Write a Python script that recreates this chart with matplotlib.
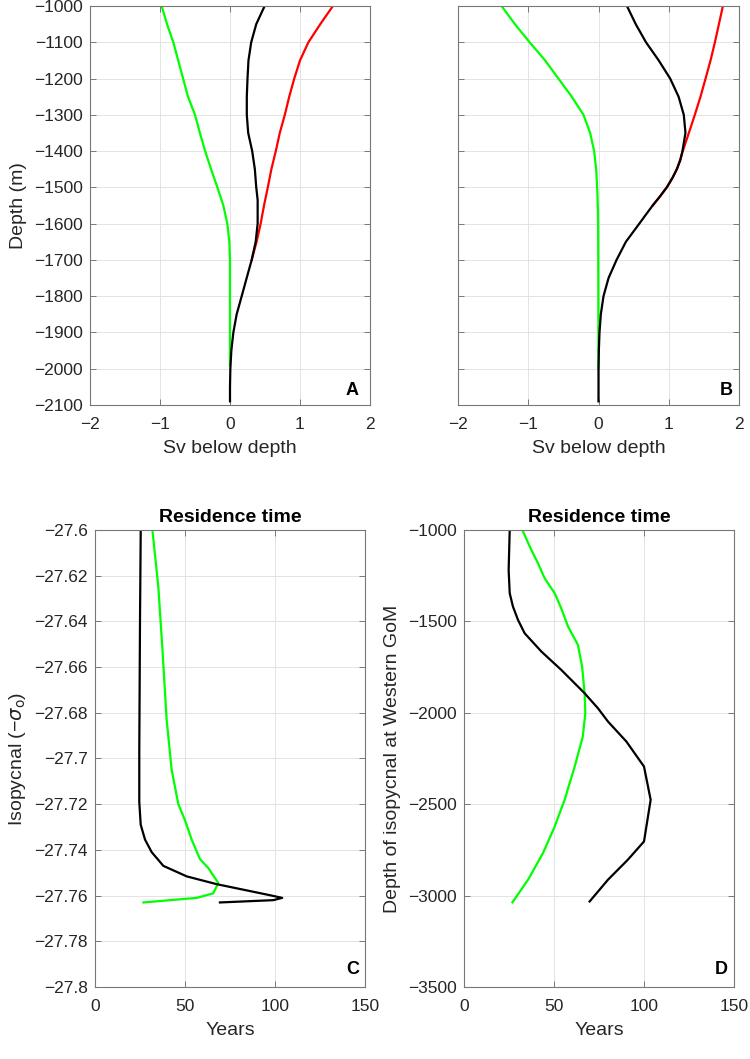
import matplotlib
matplotlib.use("Agg")
import matplotlib.pyplot as plt
from matplotlib.ticker import FuncFormatter

plt.rcParams['font.family'] = ['Liberation Sans', 'DejaVu Sans']

# ---------------- Panel A data ----------------
a_green_depth = [-1000, -1050, -1100, -1150, -1200, -1250, -1300, -1350, -1400, -1450, -1500,
                 -1550, -1600, -1650, -1700, -1800, -1900, -1990]
a_green_sv = [-0.976, -0.90, -0.81, -0.74, -0.67, -0.60, -0.50, -0.43, -0.355, -0.27, -0.18,
              -0.095, -0.038, -0.01, 0.0, 0.0, 0.0, 0.0]

a_black_depth = [-1000, -1050, -1100, -1150, -1200, -1250, -1300, -1350, -1400, -1450, -1500,
                 -1535, -1600, -1650, -1700, -1750, -1800, -1850, -1900, -1950, -2000, -2050, -2090]
a_black_sv = [0.495, 0.375, 0.303, 0.264, 0.25, 0.24, 0.24, 0.26, 0.317, 0.355, 0.375,
              0.395, 0.395, 0.367, 0.31, 0.238, 0.167, 0.095, 0.048, 0.019, 0.005, 0.0, 0.0]

a_red_depth = [-1000, -1050, -1100, -1150, -1200, -1250, -1300, -1350, -1400, -1450, -1500,
               -1550, -1600, -1650, -1700]
a_red_sv = [1.47, 1.29, 1.12, 1.0, 0.918, 0.846, 0.783, 0.711, 0.654, 0.591, 0.54,
            0.486, 0.438, 0.38, 0.31]

# ---------------- Panel B data ----------------
b_green_depth = [-1000, -1050, -1100, -1150, -1200, -1250, -1300, -1350, -1400, -1450, -1500,
                 -1550, -1600, -2000]
b_green_sv = [-1.38, -1.19, -0.98, -0.76, -0.571, -0.381, -0.214, -0.119, -0.062, -0.033, -0.019,
              -0.01, -0.005, 0.0]

b_black_depth = [-1000, -1050, -1100, -1150, -1200, -1250, -1300, -1350, -1400, -1425, -1450,
                 -1475, -1500, -1525, -1550, -1575, -1600, -1650, -1700, -1750, -1800, -1850,
                 -1900, -1950, -2000, -2090]
b_black_sv = [0.405, 0.53, 0.676, 0.857, 1.02, 1.14, 1.214, 1.238, 1.195, 1.165, 1.115,
              1.05, 0.972, 0.875, 0.771, 0.675, 0.581, 0.39, 0.257, 0.143, 0.071, 0.033,
              0.014, 0.005, 0.0, 0.0]

b_red_depth = [-1000, -1050, -1100, -1150, -1200, -1250, -1300, -1350, -1400, -1425, -1450,
               -1475, -1500, -1525, -1550]
b_red_sv = [1.771, 1.714, 1.657, 1.595, 1.524, 1.452, 1.371, 1.286, 1.20, 1.16, 1.115,
            1.05, 0.972, 0.875, 0.771]

# ---------------- Panel C data ----------------
c_black_sigma = [-27.6, -27.64, -27.697, -27.719, -27.729, -27.7355, -27.741, -27.747, -27.7516,
                 -27.755, -27.758, -27.7598, -27.761, -27.762, -27.763]
c_black_years = [25.4, 25.0, 24.6, 24.6, 25.4, 27.8, 31.5, 38.0, 51.0, 67.6, 86.0, 97.0, 104.0, 99.0, 69.4]

c_green_sigma = [-27.6, -27.625, -27.654, -27.683, -27.705, -27.72, -27.727, -27.7355, -27.744,
                 -27.748, -27.7545, -27.759, -27.761, -27.763]
c_green_years = [31.9, 35.2, 37.6, 39.8, 42.6, 46.3, 50.0, 53.7, 58.3, 63.0, 68.5, 65.7, 56.5, 26.9]

# ---------------- Panel D data ----------------
d_black_depth = [-1000, -1219, -1346, -1419, -1492, -1565, -1665, -1765, -1893, -1975, -2048, -2157,
                 -2294, -2476, -2704, -2804, -2913, -3032]
d_black_years = [25.4, 24.8, 25.4, 27.2, 30.0, 33.7, 43.0, 54.0, 67.0, 74.4, 80.0, 90.2,
                 100.0, 103.7, 100.0, 91.0, 80.0, 69.8]

d_green_depth = [-1000, -1109, -1182, -1264, -1346, -1428, -1528, -1629, -1747, -1893, -2002, -2130,
                 -2294, -2476, -2622, -2767, -2913, -3037]
d_green_years = [32.4, 37.4, 41.1, 44.8, 50.4, 54.0, 57.8, 63.3, 65.6, 67.0, 67.4, 66.0,
                 61.5, 55.9, 50.4, 43.9, 35.6, 26.9]

# ---------------- Styling ----------------
W, H = 750, 1059
fig = plt.figure(figsize=(W / 100, H / 100), dpi=100)

TICK_FS = 12.5
LABEL_FS = 14
LETTER_FS = 13
TXT = '#262626'
FRAME = '#777777'
LW = 1.6
GREEN = '#00ff00'


def make_ax(l, r, t, b):
    ax = fig.add_axes([l / W, 1 - b / H, (r - l) / W, (b - t) / H])
    for s in ax.spines.values():
        s.set_color(FRAME)
        s.set_linewidth(0.8)
    ax.tick_params(direction='in', top=True, right=True, length=4, width=0.7,
                   color=FRAME, labelsize=TICK_FS, labelcolor=TXT)
    ax.tick_params(axis='x', pad=8.5)
    ax.tick_params(axis='y', pad=5)
    ax.grid(True, color='#e3e3e3', linewidth=0.7)
    ax.set_axisbelow(True)
    return ax


def minus_fmt(v, pos):
    s = '%g' % round(v, 6)
    return s.replace('-', '\u2212')


fmt = FuncFormatter(minus_fmt)


def letter(ax, fx, fy, s):
    ax.text(fx, fy, s, transform=ax.transAxes, ha='center', va='baseline',
            fontsize=LETTER_FS, fontweight='bold', color='black')


# Panel A
axA = make_ax(90, 370, 6, 405)
axA.plot(a_red_sv, a_red_depth, color='red', lw=LW)
axA.plot(a_green_sv, a_green_depth, color=GREEN, lw=LW)
axA.plot(a_black_sv, a_black_depth, color='black', lw=LW)
axA.set_xlim(-2, 2)
axA.set_ylim(-2100, -1000)
axA.set_xticks([-2, -1, 0, 1, 2])
axA.set_yticks(list(range(-2100, -999, 100)))
axA.xaxis.set_major_formatter(fmt)
axA.yaxis.set_major_formatter(fmt)
axA.set_xlabel('Sv below depth', fontsize=LABEL_FS, color=TXT, labelpad=6)
axA.set_ylabel('Depth (m)', fontsize=LABEL_FS, color=TXT, labelpad=5)
letter(axA, 0.936, 0.025, 'A')

# Panel B
axB = make_ax(458, 739, 6, 405)
axB.plot(b_red_sv, b_red_depth, color='red', lw=LW)
axB.plot(b_green_sv, b_green_depth, color=GREEN, lw=LW)
axB.plot(b_black_sv, b_black_depth, color='black', lw=LW)
axB.set_xlim(-2, 2)
axB.set_ylim(-2100, -1000)
axB.set_xticks([-2, -1, 0, 1, 2])
axB.set_yticks(list(range(-2100, -999, 100)))
axB.xaxis.set_major_formatter(fmt)
axB.set_yticklabels([])
axB.set_xlabel('Sv below depth', fontsize=LABEL_FS, color=TXT, labelpad=6)
letter(axB, 0.954, 0.025, 'B')

# Panel C
axC = make_ax(95, 365, 530, 987)
axC.plot(c_green_years, c_green_sigma, color=GREEN, lw=LW)
axC.plot(c_black_years, c_black_sigma, color='black', lw=LW)
axC.set_xlim(0, 150)
axC.set_ylim(-27.8, -27.6)
axC.set_xticks([0, 50, 100, 150])
axC.set_yticks([-27.8 + 0.02 * i for i in range(11)])
axC.xaxis.set_major_formatter(fmt)
axC.yaxis.set_major_formatter(fmt)
axC.set_xlabel('Years', fontsize=LABEL_FS, color=TXT, labelpad=6)
axC.set_ylabel('Isopycnal (\u2212$\\sigma_{\\rm o}$)', fontsize=LABEL_FS, color=TXT, labelpad=5)
axC.set_title('Residence time', fontsize=LABEL_FS, fontweight='bold', pad=6)
letter(axC, 0.956, 0.028, 'C')

# Panel D
axD = make_ax(464, 734, 530, 987)
axD.plot(d_green_years, d_green_depth, color=GREEN, lw=LW)
axD.plot(d_black_years, d_black_depth, color='black', lw=LW)
axD.set_xlim(0, 150)
axD.set_ylim(-3500, -1000)
axD.set_xticks([0, 50, 100, 150])
axD.set_yticks([-3500, -3000, -2500, -2000, -1500, -1000])
axD.xaxis.set_major_formatter(fmt)
axD.yaxis.set_major_formatter(fmt)
axD.set_xlabel('Years', fontsize=LABEL_FS, color=TXT, labelpad=6)
axD.set_ylabel('Depth of isopycnal at Western GoM', fontsize=LABEL_FS, color=TXT, labelpad=5)
axD.set_title('Residence time', fontsize=LABEL_FS, fontweight='bold', pad=6)
letter(axD, 0.952, 0.028, 'D')

fig.savefig('out.png', dpi=100)
